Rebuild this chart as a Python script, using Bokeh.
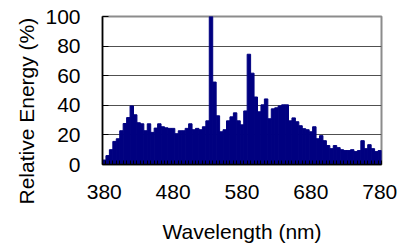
from bokeh.plotting import figure
from bokeh.models import Range1d, FixedTicker, Title, ColumnDataSource
from bokeh.embed import file_html
from bokeh.resources import INLINE

wavelengths = list(range(380, 781, 5))
energy = [3, 6, 10, 15.6, 17.4, 22.8, 27.7, 31.7, 39.6, 33.6,
          28.2, 27.5, 22.8, 27.5, 21.7, 24.6, 27.5, 25.5, 24.8, 24.4,
          24.4, 20.8, 22.8, 22.8, 24.4, 27.5, 23.5, 24.4, 23.5, 25.5,
          29.5, 100, 55.7, 32.9, 22.1, 23.5, 29.5, 32.2, 34.9, 29.5,
          26.8, 36.2, 74.5, 61.7, 45.6, 35.6, 40.3, 44.3, 30.9, 37.6,
          38.3, 39.6, 40.3, 40.3, 29.5, 31.5, 28.9, 26.2, 24.2, 23.5,
          22.1, 25.5, 17.4, 19.5, 16.1, 12.8, 10.7, 12.8, 11.4, 10,
          9.4, 9.4, 10, 8.7, 9.4, 16.1, 10.7, 13.4, 10.7, 8.7, 9.4]
x_ticks = [380, 480, 580, 680, 780]
y_ticks = [0, 20, 40, 60, 80, 100]
x_title = "Wavelength (nm)"
y_title = "Relative Energy (%)"

FONT = "Liberation Sans"
FS = "21px"

p = figure(width=412, height=245, output_backend="svg", toolbar_location=None,
           x_range=Range1d(377.5, 782.5), y_range=Range1d(0, 100),
           min_border_left=102, min_border_right=31, min_border_top=16, min_border_bottom=80)
p.background_fill_color = "white"
p.border_fill_color = "white"
p.outline_line_color = "#8c8c8c"
p.outline_line_width = 2

src = ColumnDataSource(dict(x=wavelengths, top=energy))
p.vbar(x="x", top="top", width=5, bottom=0, source=src,
       fill_color="#000080", line_color="#000080", line_width=1)

p.xgrid.visible = False
p.ygrid.grid_line_color = "#505050"
p.ygrid.grid_line_width = 1

# x axis
bar_edges = [w - 2.5 for w in wavelengths] + [wavelengths[-1] + 2.5]
p.xaxis.ticker = FixedTicker(ticks=x_ticks, minor_ticks=bar_edges)
p.xaxis.major_tick_in = 0
p.xaxis.major_tick_out = 0
p.xaxis.minor_tick_in = 4
p.xaxis.minor_tick_out = 0
p.xaxis.minor_tick_line_color = "black"
p.xaxis.axis_line_color = "black"
p.xaxis.axis_line_width = 1.5
p.xaxis.major_label_standoff = 20
p.xaxis.axis_label = x_title
p.xaxis.axis_label_standoff = 18
p.xaxis.axis_label_text_font = FONT
p.xaxis.axis_label_text_font_size = FS
p.xaxis.axis_label_text_font_style = "normal"
p.xaxis.axis_label_text_color = "black"
p.xaxis.major_label_text_font = FONT
p.xaxis.major_label_text_font_size = FS
p.xaxis.major_label_text_color = "black"

# y axis
p.yaxis.ticker = FixedTicker(ticks=y_ticks)
p.yaxis.minor_tick_line_color = None
p.yaxis.major_tick_in = 6
p.yaxis.major_tick_out = 0
p.yaxis.major_tick_line_color = "black"
p.yaxis.axis_line_color = "black"
p.yaxis.axis_line_width = 1.5
p.yaxis.major_label_standoff = 22
p.yaxis.major_label_text_font = FONT
p.yaxis.major_label_text_font_size = FS
p.yaxis.major_label_text_color = "black"

ytitle = Title(text=y_title, align="left", offset=-40, standoff=10,
               text_font=FONT, text_font_size=FS, text_font_style="normal",
               text_color="black")
p.add_layout(ytitle, "left")

open("out.html", "w").write(file_html(p, INLINE))
